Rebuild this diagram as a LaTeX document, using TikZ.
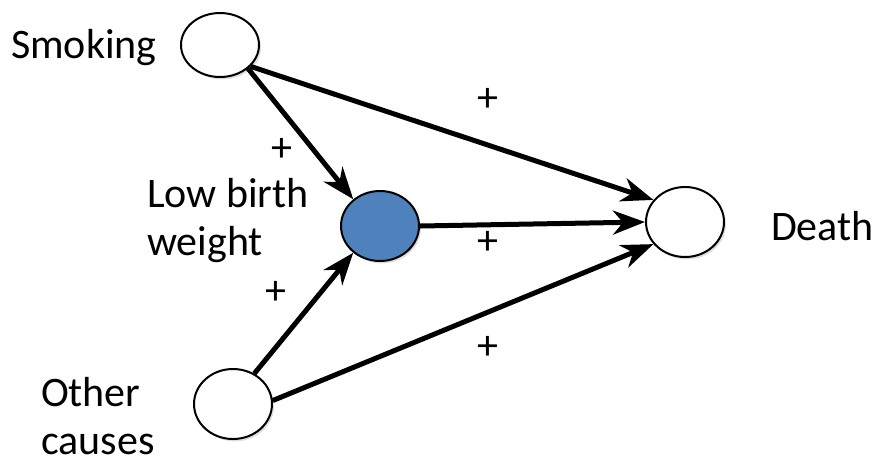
\documentclass[tikz,border=0pt]{standalone}
\usepackage{fontspec}
\setmainfont{Carlito}
\usetikzlibrary{arrows.meta,shadows,shapes.geometric}

\definecolor{causeblue}{RGB}{79,129,189}

\begin{document}
\begin{tikzpicture}[
  x=0.5pt, y=-0.5pt,
  every node/.style = {font=\fontsize{21}{24}\selectfont},
  var/.style = {ellipse, draw, line width=1pt, fill=white, inner sep=0pt,
                minimum width=39pt, minimum height=35pt,
                drop shadow={opacity=0.25, shadow xshift=1pt, shadow yshift=-1.2pt}},
  link/.style = {line width=2.5pt, -{Stealth[length=16pt, width=12pt, inset=5pt]}},
  sign/.style = {inner sep=0pt}]
  \useasboundingbox (0,0) rectangle (877,462);

  % variables
  \node[var, minimum height=32pt] (smoking) at (220,45) {};
  \node[var, fill=causeblue] (lbw) at (380,226) {};
  \node[var] (death) at (685,222) {};
  \node[var] (other) at (233,404) {};

  % labels
  \node[anchor=west] (smokinglbl) at (4,48) {Smoking};
  \node[anchor=west, align=left] (lbwlbl) at (140,221) {Low birth\\weight};
  \node[anchor=west] (deathlbl) at (764,226) {Death};
  \node[anchor=west, align=left] (otherlbl) at (34,416) {Other\\causes};

  % arrows
  \draw[link] (smoking.-40) -- (lbw.135);
  \draw[link] (smoking.-35) -- (death.145);
  \draw[link] (lbw.east) -- (death.west);
  \draw[link] (other.55) -- (lbw.225);
  \draw[link] (other.5) -- (death.215);

  % signs
  \node[sign] (s1) at (488,100) {+};
  \node[sign] (s2) at (282,150) {+};
  \node[sign] (s3) at (488,243) {+};
  \node[sign] (s4) at (276,293) {+};
  \node[sign] (s5) at (488,348) {+};
\end{tikzpicture}
\end{document}
